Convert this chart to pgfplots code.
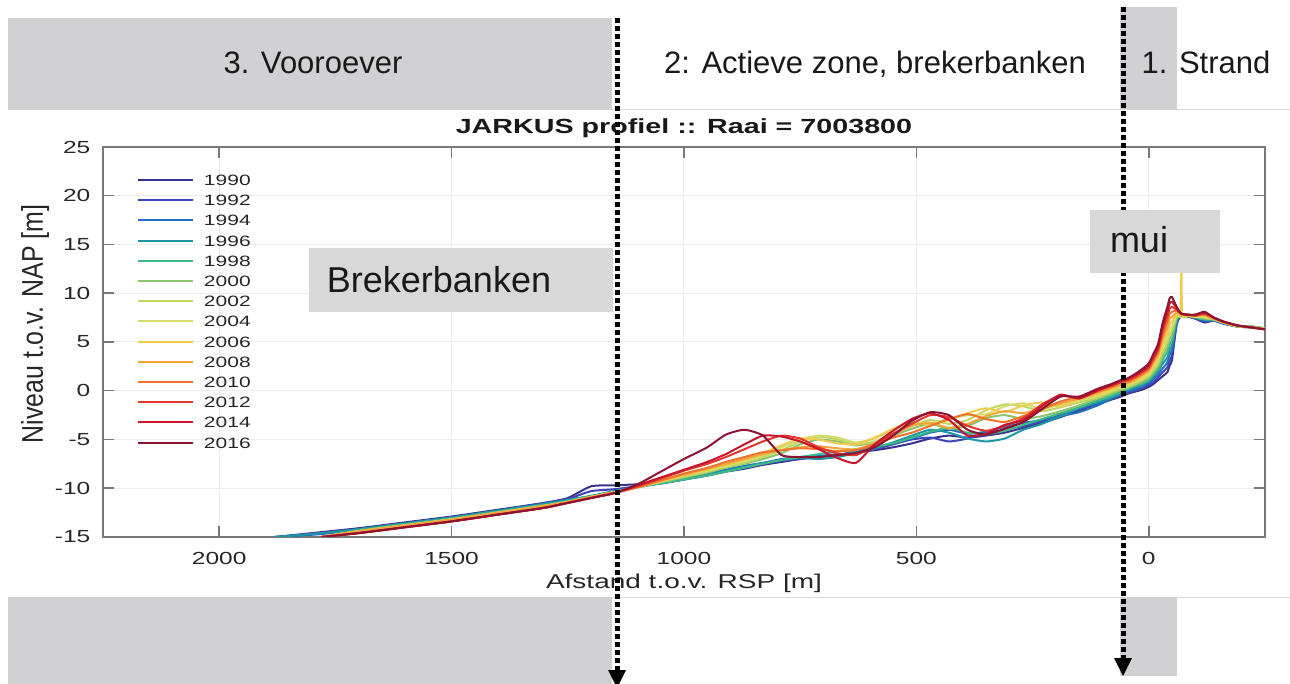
\documentclass[border=0pt]{standalone}
\usepackage{fontspec}
\setmainfont{Liberation Sans}
\newfontfamily\chartfont[FakeStretch=1.4]{Liberation Sans}
\newfontfamily\ylabfont[FakeStretch=0.83]{Liberation Sans}
\usepackage{pgfplots}
\usepackage{pgfplotstable}
\pgfplotsset{compat=1.18}

\definecolor{c1990}{RGB}{55,50,140}
\definecolor{c1992}{RGB}{60,70,185}
\definecolor{c1994}{RGB}{35,110,190}
\definecolor{c1996}{RGB}{30,150,165}
\definecolor{c1998}{RGB}{60,185,135}
\definecolor{c2000}{RGB}{140,195,110}
\definecolor{c2002}{RGB}{190,215,95}
\definecolor{c2004}{RGB}{215,220,110}
\definecolor{c2006}{RGB}{240,205,80}
\definecolor{c2008}{RGB}{240,165,60}
\definecolor{c2010}{RGB}{240,115,45}
\definecolor{c2012}{RGB}{225,55,45}
\definecolor{c2014}{RGB}{200,20,45}
\definecolor{c2016}{RGB}{140,20,50}
\definecolor{boxgray}{RGB}{209,208,210}
\definecolor{lblgray}{RGB}{216,216,216}
\definecolor{axisgray}{RGB}{120,120,120}

% JARKUS profiles, distance to RSP [m] vs level NAP [m]
\pgfplotstableread{
d     y1990 y1992 y1994 y1996 y1998 y2000 y2002 y2004 y2006 y2008 y2010 y2012 y2014 y2016
-250  6.4   6.4   6.4   6.4   6.4   6.4   6.4   6.3   6.3   6.3   6.3   6.3   6.3   6.3
-220  6.5   6.5   6.6   6.5   6.5   6.6   6.5   6.5   6.5   6.5   6.5   6.5   6.5   6.5
-190  6.6   6.6   6.6   6.6   6.6   6.6   6.6   6.7   6.7   6.7   6.7   6.7   6.7   6.7
-160  6.9   6.9   6.9   7.0   7.0   7.0   7.0   7.0   7.0   7.0   7.1   7.1   7.1   7.1
-140  7.2   7.2   7.2   7.3   7.3   7.3   7.3   7.4   7.4   7.4   7.4   7.5   7.5   7.5
-120  7.0   7.1   7.2   7.3   7.3   7.4   7.5   7.6   7.7   7.8   7.8   7.9   8.0   8.1
-100  7.4   7.4   7.5   7.5   7.5   7.6   7.6   7.6   7.6   7.7   7.7   7.7   7.8   7.8
-85   7.6   7.6   7.6   7.6   7.7   7.7   7.7   7.7   7.7   7.7   7.8   7.8   7.8   7.8
-72   nan   nan   nan   nan   nan   nan   nan   nan   7.8   nan   nan   nan   nan   nan
-70   7.7   7.7   7.7   7.7   7.8   7.8   7.8   7.8   14.0  7.8   7.9   7.9   7.9   7.9
-68   nan   nan   nan   nan   nan   nan   nan   nan   7.8   nan   nan   nan   nan   nan
-60   6.8   6.9   7.1   7.2   7.4   7.5   7.6   7.8   7.9   8.0   8.2   8.3   8.5   8.6
-50   3.2   3.7   4.2   4.7   5.2   5.7   6.2   6.6   7.1   7.6   8.1   8.6   9.1   9.6
-45   2.6   3.1   3.7   4.2   4.7   5.3   5.8   6.3   6.8   7.4   7.9   8.4   9.0   9.5
-40   1.9   2.4   2.9   3.4   4.0   4.5   5.0   5.5   6.0   6.5   7.1   7.6   8.1   8.6
-30   1.5   1.9   2.3   2.8   3.2   3.6   4.0   4.5   4.9   5.3   5.7   6.2   6.6   7.0
-20   1.1   1.4   1.7   2.0   2.2   2.5   2.8   3.1   3.4   3.7   4.0   4.2   4.5   4.8
-10   0.7   0.9   1.2   1.4   1.7   1.9   2.1   2.4   2.6   2.9   3.1   3.3   3.6   3.8
0     0.4   0.6   0.8   1.0   1.1   1.3   1.5   1.7   1.9   2.1   2.2   2.4   2.6   2.8
15    0.1   0.3   0.4   0.6   0.7   0.9   1.1   1.2   1.4   1.6   1.7   1.9   2.0   2.2
30    -0.1  0.0   0.2   0.3   0.5   0.6   0.7   0.9   1.0   1.1   1.3   1.4   1.6   1.7
45    -0.3  -0.2  -0.1  0.1   0.2   0.3   0.4   0.6   0.7   0.8   0.9   1.1   1.2   1.3
60    -0.6  -0.5  -0.4  -0.3  -0.1  0.1   0.2   0.4   0.5   0.6   0.8   0.9   1.0   1.1
80    -0.9  -0.8  -0.8  -0.7  -0.5  -0.3  -0.1  0.0   0.1   0.3   0.4   0.5   0.6   0.7
110   -1.4  -1.3  -1.5  -1.2  -1.0  -0.8  -0.7  -0.5  -0.4  -0.2  -0.1  0.1   0.0   0.2
150   -2.0  -1.9  -2.2  -1.8  -1.7  -1.5  -1.2  -1.0  -0.9  -0.8  -0.6  -0.7  -0.8  -0.6
190   -2.7  -2.5  -2.6  -2.6  -2.3  -2.1  -1.7  -1.4  -1.6  -1.3  -1.1  -0.5  -0.4  -0.6
230   -3.3  -3.1  -3.0  -3.4  -2.9  -2.6  -2.1  -1.9  -1.2  -1.8  -1.9  -1.4  -1.6  -1.9
270   -3.8  -3.6  -3.3  -4.0  -3.5  -2.9  -1.6  -1.3  -1.5  -2.3  -2.6  -2.8  -3.0  -3.2
310   -4.3  -4.0  -3.7  -4.9  -4.1  -2.5  -1.4  -1.6  -2.2  -2.1  -3.2  -3.6  -3.5  -3.9
350   -4.6  -4.3  -4.2  -5.2  -4.5  -2.8  -2.0  -2.4  -1.8  -2.6  -2.9  -4.1  -4.4  -4.5
390   -4.8  -4.9  -4.4  -4.9  -4.3  -3.6  -3.0  -2.5  -2.3  -3.4  -2.4  -3.6  -4.6  -4.0
430   -4.6  -5.2  -4.0  -4.3  -3.8  -3.9  -3.4  -2.9  -3.0  -3.8  -2.9  -2.7  -3.0  -2.5
470   -4.9  -4.8  -4.3  -4.0  -4.2  -3.4  -3.0  -3.3  -3.5  -3.3  -3.6  -2.5  -2.3  -2.2
510   -5.4  -5.0  -4.9  -4.6  -4.8  -3.9  -3.6  -3.4  -3.2  -3.6  -4.3  -3.4  -2.9  -3.1
550   -5.8  -5.5  -5.4  -5.3  -5.4  -4.6  -4.4  -4.0  -3.9  -4.5  -4.8  -4.4  -4.1  -4.6
590   -6.1  -6.0  -5.8  -5.9  -5.7  -5.3  -5.2  -4.9  -4.8  -5.4  -5.5  -5.6  -5.5  -5.8
630   -6.3  -6.4  -6.2  -6.4  -6.0  -5.6  -5.5  -5.3  -5.5  -6.0  -6.1  -6.6  -7.4  -6.4
670   -6.6  -6.5  -6.6  -6.8  -6.2  -5.2  -5.0  -4.8  -5.4  -5.9  -6.2  -6.4  -6.9  -6.6
710   -6.8  -6.7  -6.7  -7.0  -6.5  -5.0  -4.7  -4.6  -5.0  -5.7  -6.0  -5.8  -6.0  -6.8
750   -7.0  -7.0  -6.8  -6.9  -6.8  -5.5  -5.2  -5.0  -4.9  -5.8  -5.9  -4.9  -5.2  -6.8
790   -7.3  -7.2  -7.0  -7.1  -7.1  -6.4  -6.1  -5.8  -5.6  -6.1  -6.1  -4.6  -4.7  -6.6
830   -7.6  -7.5  -7.4  -7.4  -7.5  -7.0  -6.8  -6.6  -6.4  -6.5  -6.3  -5.2  -4.6  -4.6
870   -8.0  -7.8  -7.7  -7.8  -7.9  -7.5  -7.4  -7.2  -7.1  -7.0  -6.8  -6.0  -5.5  -4.0
910   -8.3  -8.2  -8.1  -8.2  -8.3  -7.9  -7.8  -7.7  -7.6  -7.5  -7.3  -6.8  -6.5  -4.5
950   -8.7  -8.6  -8.5  -8.6  -8.7  -8.4  -8.3  -8.2  -8.1  -8.0  -7.9  -7.5  -7.3  -5.8
1000  -9.1  -9.1  -9.0  -9.1  -9.1  -8.9  -8.8  -8.7  -8.7  -8.6  -8.5  -8.2  -8.1  -7.0
1050  -9.5  -9.5  -9.4  -9.5  -9.5  -9.4  -9.3  -9.3  -9.3  -9.2  -9.2  -9.0  -8.9  -8.3
1100  -9.6  -9.8  -9.8  -9.9  -9.9  -9.9  -9.9  -9.9  -9.9  -9.9  -9.9  -9.8  -9.7  -9.6
1150  -9.7  -10.1 -10.3 -10.3 -10.4 -10.4 -10.4 -10.4 -10.4 -10.4 -10.5 -10.5 -10.5 -10.5
1200  -9.8  -10.3 -10.8 -10.8 -10.8 -10.9 -10.9 -10.9 -10.9 -10.9 -11.0 -11.0 -11.0 -11.0
1250  -11.0 -11.1 -11.2 -11.2 -11.3 -11.4 -11.4 -11.4 -11.4 -11.4 -11.5 -11.5 -11.5 -11.5
1300  -11.5 -11.5 -11.6 -11.6 -11.7 -11.8 -11.8 -11.8 -11.8 -11.8 -12.0 -12.0 -12.0 -12.0
1400  -12.2 -12.3 -12.3 -12.3 -12.4 -12.5 -12.5 -12.5 -12.5 -12.5 -12.7 -12.7 -12.7 -12.7
1500  -12.9 -13.0 -13.0 -13.0 -13.1 -13.2 -13.2 -13.2 -13.2 -13.2 -13.4 -13.4 -13.4 -13.4
1600  -13.5 -13.6 -13.6 -13.6 -13.7 -13.8 -13.8 -13.8 -13.8 -13.8 -14.0 -14.0 -14.0 -14.0
1700  -14.1 -14.2 -14.2 -14.2 -14.3 -14.4 -14.4 -14.4 -14.4 -14.4 -14.6 -14.6 -14.6 -14.6
1780  -14.5 -14.6 -14.7 -14.6 -15.0 -15.0 -15.0 -15.0 -15.0 -15.0 -15.0 -15.0 -15.0 -15.0
1880  -15.0 -15.0 -15.0 -15.0 nan   nan   nan   nan   nan   nan   nan   nan   nan   nan
}\profiles

\begin{document}
\begin{tikzpicture}
\useasboundingbox (0pt,0pt) rectangle (1290pt,-684pt);

% grey zone bands behind the figure
\begin{scope}[x=1pt,y=-1pt]
\draw[gray!30, line width=1pt] (8,110) -- (1290,110);
\draw[gray!30, line width=1pt] (8,597) -- (1290,597);
\fill[boxgray] (8,18) rectangle (612,110);
\fill[boxgray] (1120,7) rectangle (1177,110);
\fill[boxgray] (8,597) rectangle (612,684);
\fill[boxgray] (1120,597) rectangle (1177,676);
\end{scope}

\begin{axis}[
    at={(103pt,-147pt)}, anchor=north west,
    scale only axis, width=1162pt, height=390pt,
    x dir=reverse,
    xmin=-250, xmax=2250, ymin=-15, ymax=25,
    xtick={0,500,1000,1500,2000},
    ytick={-15,-10,-5,0,5,10,15,20,25},
    grid=major, grid style={gray!15, line width=1pt},
    axis line style={draw=axisgray, line width=1.5pt},
    tick style={draw=axisgray, line width=1.5pt},
    tick align=inside, major tick length=11pt,
    scaled ticks=false,
    /pgf/number format/assume math mode=true,
    /pgf/number format/1000 sep={},
    ticklabel style={font=\chartfont\fontsize{17.5}{17.5}\selectfont, text=black!85, inner sep=0pt},
    xticklabel style={anchor=base, yshift=-28pt},
    yticklabel style={anchor=east, xshift=-12.5pt},
    title={JARKUS profiel :: Raai = 7003800},
    title style={at={([yshift=7.5pt]axis description cs:0.5,1)}, anchor=base, inner sep=0pt,
        font=\chartfont\bfseries\fontsize{20.5}{20.5}\selectfont, text=black!90},
    xlabel={Afstand t.o.v. RSP [m]},
    xlabel style={at={([yshift=-52pt]axis description cs:0.5,0)}, anchor=base, inner sep=0pt,
        font=\chartfont\fontsize{20}{20}\selectfont, text=black!85},
    ylabel={Niveau t.o.v. NAP [m]},
    ylabel style={at={([xshift=-60pt,yshift=18pt]axis description cs:0,0.5)}, anchor=base, inner sep=0pt,
        font=\ylabfont\fontsize{30}{30}\selectfont, text=black!85},
    legend style={at={([xshift=34pt,yshift=-27.5pt]axis description cs:0,1)}, anchor=north west,
        draw=none, fill=none, inner sep=0pt, outer sep=0pt, row sep=9.2pt, column sep=10pt,
        font=\chartfont\fontsize{15}{15}\selectfont, text=black!85,
        nodes={inner sep=0pt, text height=11pt, text depth=0pt}},
    legend cell align=left,
    legend image code/.code={\draw[#1, sharp plot, line width=2pt] (0pt,0pt) -- (55pt,0pt);},
    every axis plot/.append style={line width=2pt, smooth, tension=0.35},
]
\addplot[c1990] table[x=d, y=y1990] {\profiles};
\addplot[c1992] table[x=d, y=y1992] {\profiles};
\addplot[c1994] table[x=d, y=y1994] {\profiles};
\addplot[c1996] table[x=d, y=y1996] {\profiles};
\addplot[c1998] table[x=d, y=y1998] {\profiles};
\addplot[c2000] table[x=d, y=y2000] {\profiles};
\addplot[c2002] table[x=d, y=y2002] {\profiles};
\addplot[c2004] table[x=d, y=y2004] {\profiles};
\addplot[c2006] table[x=d, y=y2006] {\profiles};
\addplot[c2008] table[x=d, y=y2008] {\profiles};
\addplot[c2010] table[x=d, y=y2010] {\profiles};
\addplot[c2012] table[x=d, y=y2012] {\profiles};
\addplot[c2014] table[x=d, y=y2014] {\profiles};
\addplot[c2016] table[x=d, y=y2016] {\profiles};
\legend{1990,1992,1994,1996,1998,2000,2002,2004,2006,2008,2010,2012,2014,2016}
\end{axis}

% zone labels, dotted boundaries and annotation boxes
\begin{scope}[x=1pt,y=-1pt]
\node[anchor=base, inner sep=0pt, font=\fontsize{31}{31}\selectfont, text=black!90] at (313,74) {3. Vooroever};
\node[anchor=base, inner sep=0pt, font=\fontsize{31}{31}\selectfont, text=black!90] at (875,74) {2: Actieve zone, brekerbanken};
\node[anchor=base, inner sep=0pt, font=\fontsize{31}{31}\selectfont, text=black!90] at (1206,74) {1. Strand};

\draw[black, line width=5pt, dash pattern=on 5pt off 3pt] (617,18) -- (617,670);
\fill[black] (608,670) -- (626,670) -- (617,688) -- cycle;
\draw[black, line width=5pt, dash pattern=on 5pt off 3pt] (1123,7) -- (1123,658);
\fill[black] (1114,658) -- (1132,658) -- (1123,676) -- cycle;

\fill[lblgray] (309,248) rectangle (613,312);
\node[anchor=base, inner sep=0pt, font=\fontsize{36}{36}\selectfont, text=black!90] at (439,293) {Brekerbanken};
\fill[lblgray] (1090,210) rectangle (1220,273);
\node[anchor=base, inner sep=0pt, font=\fontsize{36}{36}\selectfont, text=black!90] at (1139,253) {mui};
\end{scope}
\end{tikzpicture}
\end{document}
